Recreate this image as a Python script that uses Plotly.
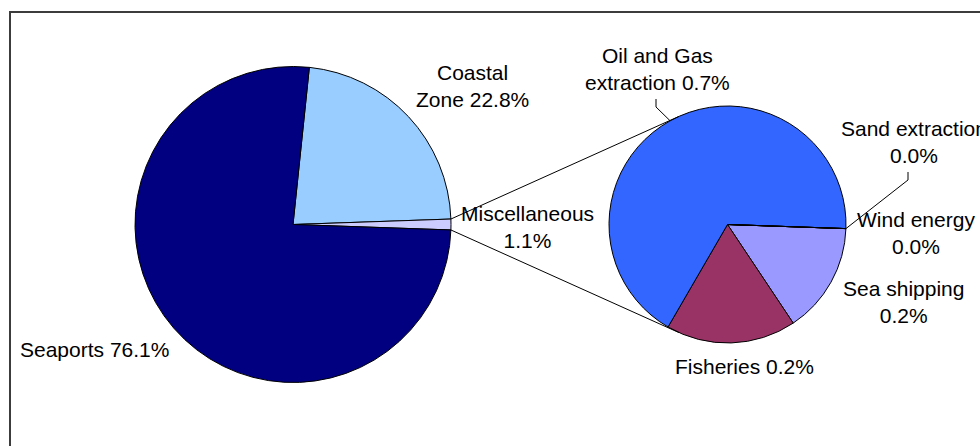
import math
import plotly.graph_objects as go

# Sector shares of the total (percent)
main_labels = ["Coastal Zone", "Miscellaneous", "Seaports"]
main_values = [22.8, 1.1, 76.1]
main_colors = ["#99CCFF", "#CCCCFF", "#000080"]

# Breakdown of the miscellaneous share (percent of the total)
sub_labels = ["Sea shipping", "Fisheries", "Oil and Gas extraction",
              "Sand extraction", "Wind energy"]
sub_values = [0.166, 0.195, 0.739, 0.0, 0.0]
sub_colors = ["#9999FF", "#993366", "#3366FF", "#3366FF", "#3366FF"]

W, H = 980, 446
FONT = dict(family="Liberation Sans, Arial, sans-serif", size=21, color="black")

# Pie placement in pixels: centre x, centre y, radius
MAIN = (293.0, 224.5, 158.0)
SUB = (727.5, 224.5, 118.5)


def px(x):
    return x / W


def py(y):
    return 1 - y / H


def domain(c):
    cx, cy, r = c
    return dict(x=[px(cx - r), px(cx + r)], y=[py(cy + r), py(cy - r)])


def edge_point(c, ang):
    """Point on a pie rim; angle in degrees clockwise from 12 o'clock."""
    cx, cy, r = c
    a = math.radians(ang)
    return cx + r * math.sin(a), cy - r * math.cos(a)


main_total = sum(main_values)
deg_main = [v / main_total * 360 for v in main_values]
misc_deg = deg_main[1]
# the miscellaneous slice is centred on 3 o'clock
main_rotation = 90 - misc_deg / 2 - deg_main[0]

sub_total = sum(sub_values)
deg_sub = [v / sub_total * 360 for v in sub_values]
sub_rotation = 90 + misc_deg / 2

fig = go.Figure()
fig.add_trace(go.Pie(
    labels=main_labels, values=main_values, sort=False, direction="clockwise",
    rotation=main_rotation, marker=dict(colors=main_colors, line=dict(color="black", width=1)),
    textinfo="none", hoverinfo="label+value", domain=domain(MAIN), showlegend=False,
))
fig.add_trace(go.Pie(
    labels=sub_labels, values=sub_values, sort=False, direction="clockwise",
    rotation=sub_rotation, marker=dict(colors=sub_colors, line=dict(color="black", width=1)),
    textinfo="none", hoverinfo="label+value", domain=domain(SUB), showlegend=False,
))

shapes = []

# chart frame
shapes.append(dict(type="rect", xref="paper", yref="paper",
                   x0=px(10), x1=px(W + 20), y0=py(H + 20), y1=py(12),
                   line=dict(color="#3c3c3c", width=2), fillcolor="rgba(0,0,0,0)"))


def line_path(points):
    return "M " + " L ".join(f"{px(x):.6f},{py(y):.6f}" for x, y in points)


# connector lines: from the rim of the miscellaneous slice, tangent to the second pie
scx, scy, sr = SUB
for sign in (-1, 1):
    p = edge_point(MAIN, 90 + sign * misc_deg / 2)
    dx, dy = p[0] - scx, p[1] - scy
    d = math.hypot(dx, dy)
    theta = math.degrees(math.atan2(dx, -dy)) % 360
    alpha = math.degrees(math.acos(sr / d))
    t = edge_point(SUB, theta - sign * alpha)
    shapes.append(dict(type="path", xref="paper", yref="paper",
                       path=line_path([p, t]), line=dict(color="black", width=1)))

# slice mid angles in the second pie
sub_mid = {}
acc = sub_rotation
for name, dg in zip(sub_labels, deg_sub):
    sub_mid[name] = acc + dg / 2
    acc += dg

# leader lines: label anchor, elbow, slice rim
leaders = {
    "Oil and Gas extraction": [(656, 99), (656, 107)],
    "Sand extraction": [(908, 172), (908, 180)],
}
for name, pts in leaders.items():
    rim = edge_point(SUB, sub_mid[name])
    shapes.append(dict(type="path", xref="paper", yref="paper",
                       path=line_path(pts + [rim]), line=dict(color="black", width=1)))

# data labels: (centre x, centre y, words on the first line)
placement = {
    "Coastal Zone": (472, 86, 1),
    "Miscellaneous": (527, 227, 1),
    "Seaports": (94.5, 349, 0),
    "Oil and Gas extraction": (657, 69, 3),
    "Sand extraction": (914, 142, 2),
    "Wind energy": (916, 233, 2),
    "Sea shipping": (903, 302, 2),
    "Fisheries": (744, 366, 0),
}

annotations = []
for names, values, total in ((main_labels, main_values, main_total),
                             (sub_labels, sub_values, main_total)):
    for name, v in zip(names, values):
        pct = v / total * 100
        words = f"{name} {pct:.1f}%".split()
        x, y, k = placement[name]
        text = " ".join(words[:k]) + "<br>" + " ".join(words[k:]) if k else " ".join(words)
        annotations.append(dict(x=px(x), y=py(y), xref="paper", yref="paper",
                                text=text, showarrow=False, font=FONT,
                                xanchor="center", yanchor="middle", align="center"))

fig.update_layout(
    width=W, height=H, margin=dict(l=0, r=0, t=0, b=0),
    paper_bgcolor="white", plot_bgcolor="white",
    shapes=shapes, annotations=annotations, showlegend=False,
)

fig.write_html("out.html")
